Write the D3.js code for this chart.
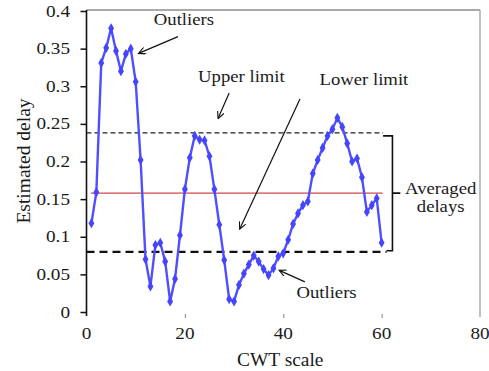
<!DOCTYPE html>
<html>
<head>
<meta charset="utf-8">
<script src="https://cdn.jsdelivr.net/npm/d3@7"></script>
<style>
  html, body { margin: 0; padding: 0; background: #fff; }
  svg { display: block; }
</style>
</head>
<body>
<svg id="chart" width="489" height="371"></svg>
<script>
// ---- data ----
const scales = d3.range(1, 61);
const delays = [
  0.118, 0.159, 0.331, 0.351, 0.377, 0.347, 0.320, 0.343, 0.350, 0.306,
  0.202, 0.070, 0.034, 0.089, 0.092, 0.067, 0.014, 0.044, 0.102, 0.163,
  0.205, 0.234, 0.229, 0.228, 0.207, 0.163, 0.116, 0.069, 0.017, 0.014,
  0.036, 0.051, 0.063, 0.075, 0.067, 0.057, 0.049, 0.058, 0.074, 0.078,
  0.096, 0.117, 0.131, 0.142, 0.147, 0.184, 0.202, 0.218, 0.234, 0.243,
  0.258, 0.246, 0.224, 0.200, 0.204, 0.179, 0.133, 0.142, 0.151, 0.092
];
const xTicks = [0, 20, 40, 60, 80];
const yTicks = [0, 0.05, 0.1, 0.15, 0.2, 0.25, 0.3, 0.35, 0.4];
const upperLimit = 0.238;
const lowerLimit = 0.080;
const averagedDelay = 0.158;

// ---- layout ----
const FONT = "Liberation Serif";
const svg = d3.select("#chart");
const x = d3.scaleLinear().domain([0, 80]).range([86.5, 480]);
const y = d3.scaleLinear().domain([0, 0.4]).range([312, 11]);
const SX = 1.08; // horizontal stretch of the lettering

function label(g, px, py, str, size, anchor, sx) {
  return g.append("text")
    .attr("transform", `translate(${px},${py}) scale(${sx || SX},1)`)
    .attr("text-anchor", anchor || "middle")
    .attr("font-family", FONT)
    .attr("font-size", size)
    .attr("fill", "#1a1a1a")
    .text(str);
}

const defs = svg.append("defs");
defs.append("marker").attr("id", "ah")
  .attr("viewBox", "0 0 10 10").attr("refX", 9).attr("refY", 5)
  .attr("markerWidth", 9).attr("markerHeight", 7).attr("markerUnits", "userSpaceOnUse")
  .attr("orient", "auto")
  .append("path").attr("d", "M0,0 L10,5 L0,10").attr("fill", "none")
  .attr("stroke", "#111").attr("stroke-width", 1.6);

// frame (top / right)
svg.append("line").attr("x1", x(0)).attr("x2", x(80)).attr("y1", y(0.4) - 1).attr("y2", y(0.4) - 1)
  .attr("stroke", "#555").attr("stroke-width", 1.2);
svg.append("line").attr("x1", x(80)).attr("x2", x(80)).attr("y1", y(0.4) - 1).attr("y2", y(0) + 5)
  .attr("stroke", "#aaa").attr("stroke-width", 1.5);

// y axis
const yAxis = d3.axisLeft(y).tickValues(yTicks).tickSize(6).tickFormat(d => String(d));
const gy = svg.append("g").attr("transform", `translate(${x(0)},0)`).call(yAxis);
gy.select(".domain").attr("stroke", "#111").attr("stroke-width", 1.6)
  .attr("d", `M0,${y(0.4) - 1}V${y(0) + 4}`);
gy.selectAll(".tick line").attr("stroke", "#111").attr("stroke-width", 1.5);
gy.selectAll(".tick text").remove();
yTicks.forEach(v => label(svg, 70, y(v) + 5.5, String(v), 16, "end", 1.2));

// x axis (ticks only)
const xAxis = d3.axisBottom(x).tickValues(xTicks.slice(1, 4)).tickSize(4).tickFormat("");
const gx = svg.append("g").attr("transform", `translate(0,${y(0) + 2})`).call(xAxis);
gx.select(".domain").remove();
gx.selectAll(".tick line").attr("stroke", "#999").attr("stroke-width", 1.2);
xTicks.forEach(v => label(svg, x(v), 339, String(v), 16, "middle", 1.2));

// axis titles
label(svg, x(40) - 3, 366, "CWT scale", 18.5, "middle", 1.05);
svg.append("text")
  .attr("transform", `translate(30,${161}) rotate(-90)`)
  .attr("text-anchor", "middle")
  .attr("font-family", FONT).attr("font-size", 19.5).attr("fill", "#1a1a1a")
  .text("Estimated delay");

// reference lines
svg.append("line").attr("x1", x(0)).attr("x2", x(60.3))
  .attr("y1", y(upperLimit)).attr("y2", y(upperLimit))
  .attr("stroke", "#222").attr("stroke-width", 1.2).attr("stroke-dasharray", "5,3");
svg.append("line").attr("x1", x(0)).attr("x2", x(61))
  .attr("y1", y(lowerLimit)).attr("y2", y(lowerLimit))
  .attr("stroke", "#111").attr("stroke-width", 2.2).attr("stroke-dasharray", "8,5");
svg.append("line").attr("x1", x(0.9)).attr("x2", x(60.2))
  .attr("y1", y(averagedDelay)).attr("y2", y(averagedDelay))
  .attr("stroke", "#cc4b4b").attr("stroke-width", 1.4);

// bracket
const bx = x(62.2);
svg.append("path")
  .attr("d", `M${x(60.3)},${y(upperLimit) + 3}H${bx}V${y(lowerLimit) - 1}H${x(61)}M${bx},${y(averagedDelay)}H${x(63.8)}`)
  .attr("fill", "none").attr("stroke", "#111").attr("stroke-width", 1.6);
label(svg, x(72), y(averagedDelay) + 1, "Averaged", 17.3, "middle");
label(svg, x(72), y(averagedDelay) + 19, "delays", 17.3, "middle");

// series line
const line = d3.line().x((d, i) => x(scales[i])).y(d => y(d));
svg.append("path").datum(delays)
  .attr("d", line).attr("fill", "none")
  .attr("stroke", "#4f4fff").attr("stroke-width", 2.4).attr("stroke-linejoin", "round");
svg.append("g").selectAll("path").data(delays).join("path")
  .attr("transform", (d, i) => `translate(${x(scales[i])},${y(d)})`)
  .attr("d", d3.symbol(d3.symbolDiamond, 30))
  .attr("fill", "#4545ff");

// annotations
function arrow(x1, y1, x2, y2, head) {
  const p = svg.append("line")
    .attr("x1", x(x1)).attr("y1", y(y1)).attr("x2", x(x2)).attr("y2", y(y2))
    .attr("stroke", "#111").attr("stroke-width", 1.2);
  if (head) p.attr("marker-end", "url(#ah)");
}
label(svg, x(19.8), y(0.381), "Outliers", 17.3);
arrow(18.6, 0.366, 10.7, 0.344, true);
label(svg, x(31.5), y(0.306), "Upper limit", 17.3);
arrow(29.0, 0.291, 26.8, 0.258, true);
label(svg, x(56.4), y(0.301), "Lower limit", 17.3);
arrow(43.4, 0.283, 31.2, 0.111, true);
label(svg, x(48.8), y(0.019), "Outliers", 17.3);
arrow(44.4, 0.040, 39.3, 0.055, true);
</script>
</body>
</html>
